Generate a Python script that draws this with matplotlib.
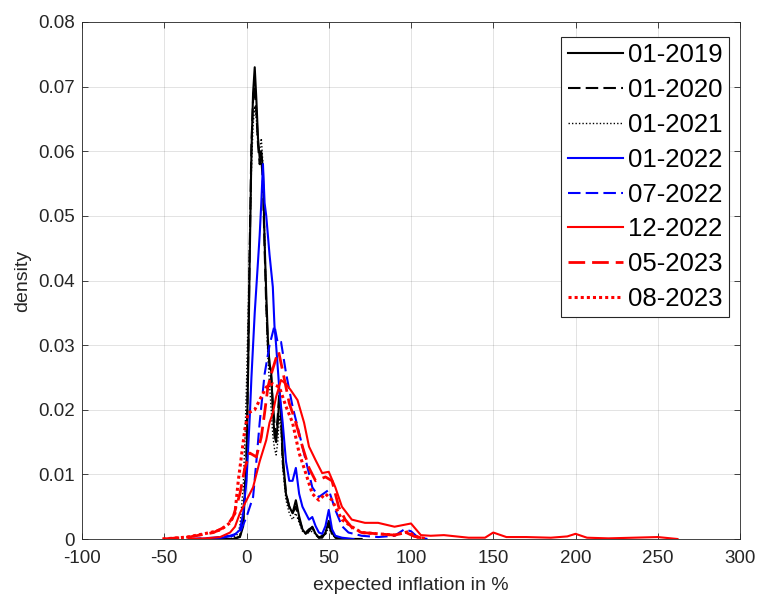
import numpy as np
import matplotlib
matplotlib.use("Agg")
import matplotlib.pyplot as plt

plt.rcParams['font.family'] = ['Liberation Sans', 'DejaVu Sans']

# density curves (x in %, y density)
x_0119 = [-20, -8, -4, -2, 0, 1, 2, 3, 4, 5, 6, 7, 8, 9, 10, 11, 12, 13, 14, 15, 16, 17, 18, 19, 20,
          21, 22, 24, 26, 28, 30, 32, 34, 36, 38, 40, 42, 44, 46, 48, 50, 52, 54, 57, 62, 70]
y_0119 = [0, 0, 0.0003, 0.002, 0.012, 0.026, 0.044, 0.060, 0.069, 0.073, 0.068, 0.062, 0.059, 0.060,
          0.057, 0.046, 0.038, 0.031, 0.027, 0.026, 0.020, 0.016, 0.015, 0.018, 0.022, 0.020, 0.013,
          0.007, 0.005, 0.004, 0.006, 0.0035, 0.0015, 0.0008, 0.0012, 0.0019, 0.0008, 0.0002, 0.0002,
          0.001, 0.0028, 0.001, 0.0002, 0, 0, 0]

x_0120 = [-20, -8, -4, -2, 0, 1, 2, 3, 4, 5, 6, 7, 8, 9, 10, 11, 12, 13, 14, 15, 16, 17, 18, 19, 20,
          21, 22, 24, 26, 28, 30, 32, 34, 36, 38, 40, 42, 44, 48, 50, 52, 55, 60, 70]
y_0120 = [0, 0, 0.0004, 0.003, 0.013, 0.028, 0.046, 0.061, 0.068, 0.070, 0.066, 0.061, 0.058, 0.059,
          0.055, 0.045, 0.036, 0.030, 0.027, 0.025, 0.021, 0.018, 0.016, 0.019, 0.023, 0.019, 0.012,
          0.007, 0.005, 0.004, 0.005, 0.003, 0.0015, 0.001, 0.0015, 0.0018, 0.0007, 0.0002, 0.0008,
          0.0022, 0.0008, 0.0001, 0, 0]

x_0121 = [-20, -10, -6, -4, -2, -1, 0, 1, 2, 3, 4, 5, 6, 7, 8, 9, 10, 11, 12, 13, 14, 15, 16, 17, 18,
          19, 20, 21, 22, 24, 26, 28, 30, 32, 34, 36, 40, 44, 48, 50, 52, 56, 62, 70]
y_0121 = [0, 0, 0.0005, 0.002, 0.008, 0.015, 0.024, 0.035, 0.047, 0.057, 0.064, 0.067, 0.065, 0.061,
          0.060, 0.062, 0.058, 0.047, 0.036, 0.028, 0.024, 0.020, 0.016, 0.014, 0.013, 0.015, 0.019,
          0.017, 0.011, 0.006, 0.004, 0.003, 0.004, 0.0025, 0.0012, 0.0008, 0.0012, 0.0003, 0.0008,
          0.0018, 0.0006, 0, 0, 0]

x_0122 = [-30, -15, -8, -4, -2, 0, 1, 2, 3, 4, 5, 6, 7, 8, 9, 10, 11, 12, 14, 16, 17, 18, 20, 22, 24,
          26, 28, 30, 32, 34, 36, 38, 40, 42, 44, 46, 48, 50, 52, 54, 58, 65]
y_0122 = [0, 0.0002, 0.0005, 0.0014, 0.004, 0.009, 0.014, 0.019, 0.025, 0.030, 0.035, 0.039, 0.043,
          0.047, 0.052, 0.058, 0.052, 0.050, 0.044, 0.039, 0.033, 0.030, 0.023, 0.018, 0.012, 0.009,
          0.009, 0.011, 0.007, 0.005, 0.004, 0.003, 0.0034, 0.002, 0.001, 0.0008, 0.002, 0.0045,
          0.0015, 0.0005, 0.0002, 0]

x_0722 = [-35, -20, -10, -4, 0, 4, 6, 8, 11, 14, 17, 19, 21, 24, 28, 32, 36, 40, 44, 50, 54, 58, 62,
          70, 80, 90, 96, 100, 104, 110]
y_0722 = [0, 0.0002, 0.0005, 0.001, 0.0034, 0.0065, 0.012, 0.018, 0.0255, 0.030, 0.033, 0.0303,
          0.0305, 0.0257, 0.0205, 0.0164, 0.0122, 0.008, 0.0065, 0.0076, 0.0045, 0.002, 0.001,
          0.0005, 0.0003, 0.0005, 0.0015, 0.0012, 0.0003, 0]

x_1222 = [-35, -25, -16, -10, -7, -4, 0, 4, 8, 12, 14, 16, 18, 21, 24, 27, 31, 35, 38, 42, 46, 50,
          54, 58, 64, 72, 80, 90, 100, 106, 112, 120, 135, 145, 150, 158, 170, 185, 195, 200, 207,
          220, 250, 262]
y_1222 = [0, 0.0001, 0.0003, 0.001, 0.0019, 0.004, 0.006, 0.008, 0.012, 0.0153, 0.018, 0.0195,
          0.022, 0.0246, 0.024, 0.023, 0.0215, 0.018, 0.0143, 0.0122, 0.0102, 0.0104, 0.008, 0.005,
          0.003, 0.0025, 0.0025, 0.0019, 0.0024, 0.0006, 0.0005, 0.0006, 0.0002, 0.0002, 0.001,
          0.0003, 0.0003, 0.0002, 0.0004, 0.0008, 0.0002, 0.0001, 0.0003, 0]

x_0523 = [-51, -35, -20, -12, -8, -4, -1, 2, 4, 6, 9, 11, 13, 15, 18, 19.5, 22, 26, 30, 34, 38, 42,
          48, 52, 56, 60, 65, 70, 80, 90, 97, 102, 110]
y_0523 = [0, 0.0003, 0.001, 0.002, 0.0035, 0.007, 0.011, 0.0133, 0.013, 0.0127, 0.0158, 0.0195,
          0.0235, 0.0255, 0.028, 0.029, 0.026, 0.021, 0.018, 0.0143, 0.011, 0.009, 0.0096, 0.009,
          0.005, 0.003, 0.0015, 0.001, 0.0008, 0.0006, 0.001, 0.0004, 0]

x_0823 = [-51, -36, -22, -16, -10, -7, -5, -3, -1, 1, 5, 8, 12, 16, 20, 24, 28, 32, 36, 40, 44, 48,
          52, 58, 64, 70, 80, 90, 98, 104, 110]
y_0823 = [0, 0.0003, 0.001, 0.0014, 0.0025, 0.004, 0.009, 0.013, 0.017, 0.0195, 0.020, 0.0215,
          0.0235, 0.024, 0.0235, 0.0205, 0.018, 0.0133, 0.0102, 0.007, 0.006, 0.007, 0.006, 0.003,
          0.0019, 0.001, 0.0008, 0.0006, 0.0011, 0.0003, 0]

labels = ['01-2019', '01-2020', '01-2021', '01-2022', '07-2022', '12-2022', '05-2023', '08-2023']
x_ticks = [-100, -50, 0, 50, 100, 150, 200, 250, 300]
y_ticks = [0, 0.01, 0.02, 0.03, 0.04, 0.05, 0.06, 0.07, 0.08]
y_ticklabels = ['0', '0.01', '0.02', '0.03', '0.04', '0.05', '0.06', '0.07', '0.08']

curves = [(x_0119, y_0119), (x_0120, y_0120), (x_0121, y_0121), (x_0122, y_0122),
          (x_0722, y_0722), (x_1222, y_1222), (x_0523, y_0523), (x_0823, y_0823)]
colors = ['black', 'black', 'black', 'blue', 'blue', 'red', 'red', 'red']
styles = ['-', (0, (6, 2.5)), (0, (1, 1.5)), '-', (0, (6, 2.5)), '-', (0, (6, 2.5)), (0, (1, 1))]
widths = [1.5, 1.5, 1.0, 1.5, 1.5, 1.5, 2.0, 2.2]

fig = plt.figure(figsize=(7.61, 5.96), dpi=100)
ax = fig.add_axes([82 / 761, 57 / 596, 658 / 761, 517 / 596])

for (xs, ys), c, ls, lw, lab in zip(curves, colors, styles, widths, labels):
    ax.plot(xs, ys, color=c, linestyle=ls, linewidth=lw, label=lab)

ax.set_xlim(-100, 300)
ax.set_ylim(0, 0.08)
ax.set_xticks(x_ticks)
ax.set_xticklabels([str(t) for t in x_ticks])
ax.set_yticks(y_ticks)
ax.set_yticklabels(y_ticklabels)
ax.grid(True, color='#262626', alpha=0.15, linewidth=0.6)
ax.set_axisbelow(True)
ax.tick_params(direction='in', length=4, width=0.6, color='#262626', labelsize=13.5,
               labelcolor='#262626', top=True, right=True)
ax.tick_params(axis='x', pad=8)
ax.tick_params(axis='y', pad=5)
for s in ax.spines.values():
    s.set_color('#262626')
    s.set_linewidth(0.6)

ax.set_xlabel('expected inflation in %', fontsize=14, color='#262626', labelpad=7)
ax.set_ylabel('density', fontsize=14, color='#262626', labelpad=5)

leg = ax.legend(loc='upper right', bbox_to_anchor=(729 / 761, 1 - 37 / 596),
                bbox_transform=fig.transFigure, fontsize=18.5, frameon=True, fancybox=False,
                edgecolor='#262626', handlelength=2.15, handletextpad=0.2, labelspacing=0.42,
                borderpad=0.25, borderaxespad=0, framealpha=1)
leg.get_frame().set_linewidth(0.8)

fig.savefig('out.png', dpi=100)
